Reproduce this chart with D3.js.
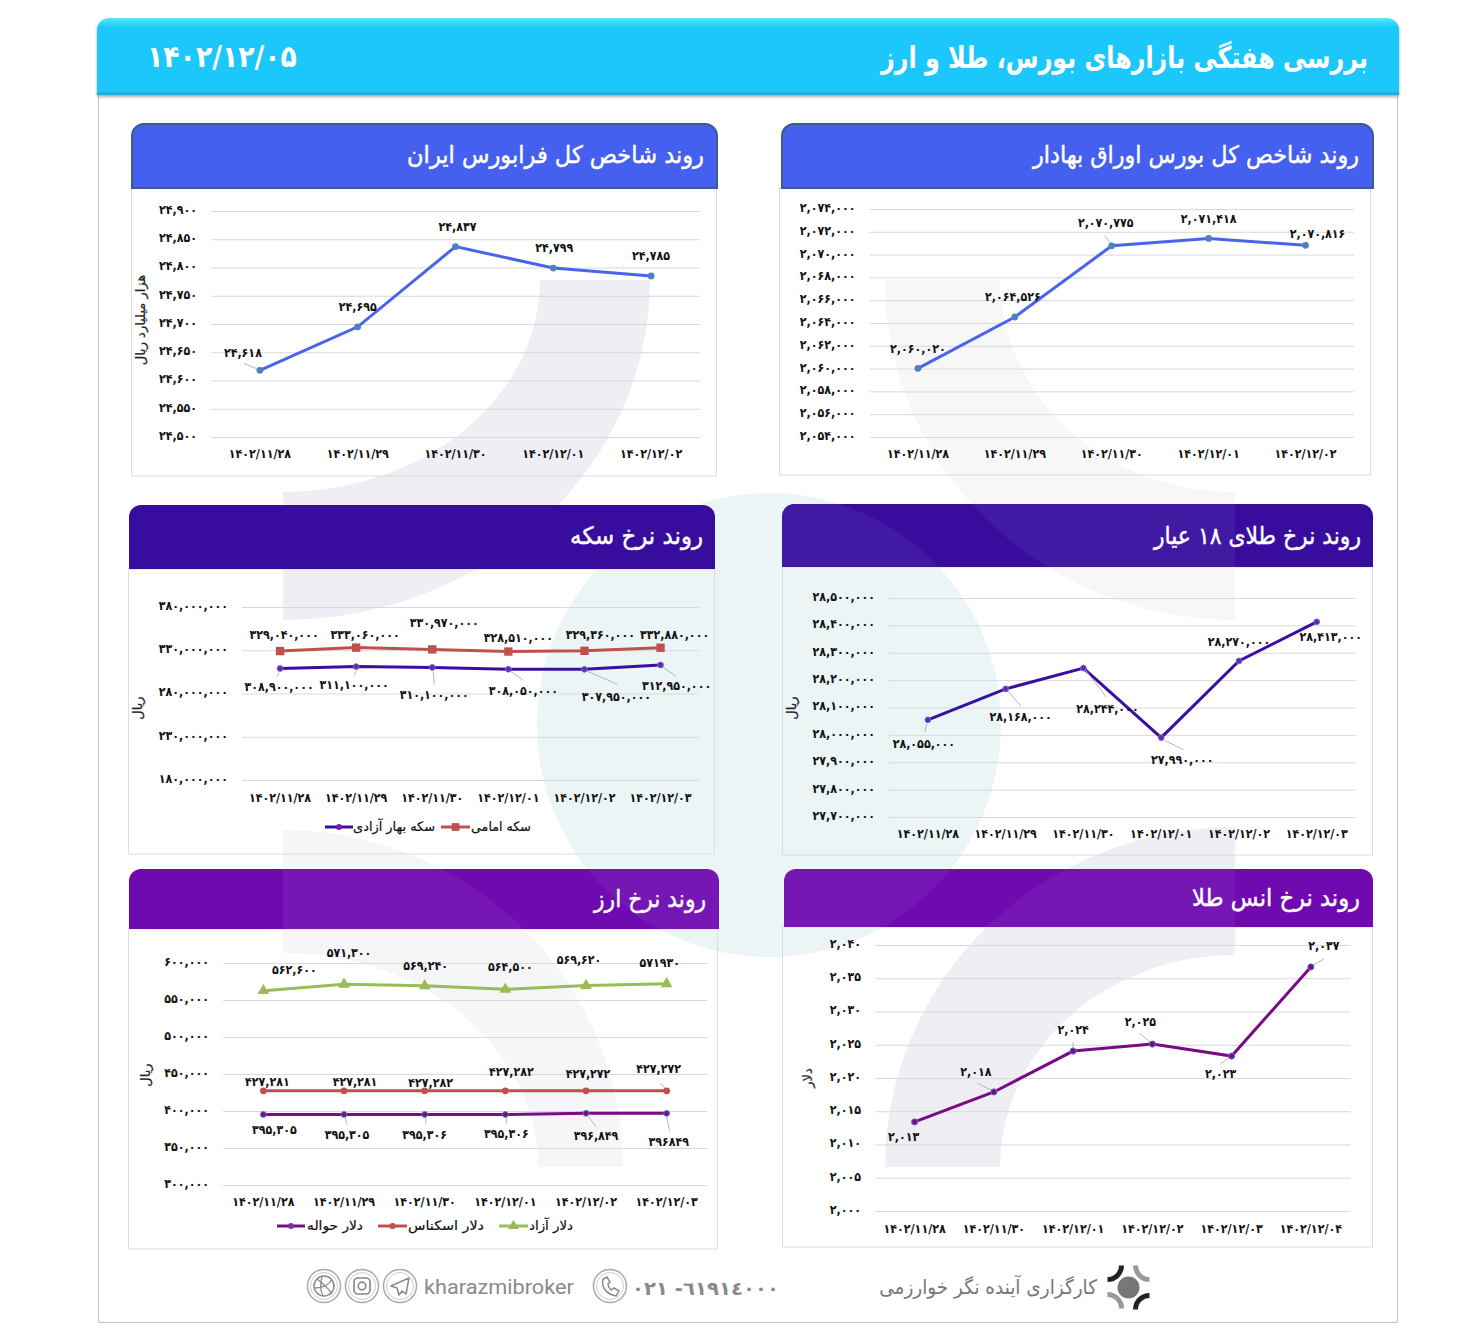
<!DOCTYPE html>
<html lang="fa"><head><meta charset="utf-8">
<style>
html,body{margin:0;padding:0;background:#fff}
svg{display:block}
text{font-family:"DejaVu Sans",sans-serif}
.num{font-family:"DejaVu Sans";font-stretch:condensed;font-weight:700;fill:#111}
.axis path{display:none}
.axis line{stroke:#d9d9d9;stroke-width:1}
</style></head><body>
<svg id="c" width="1482" height="1344"></svg>
<script src="https://cdn.jsdelivr.net/npm/d3@7"></script>
<script>
// ---------- data ----------
const datesA = ["1402/11/28","1402/11/29","1402/11/30","1402/12/01","1402/12/02"];
const datesB = ["1402/11/28","1402/11/29","1402/11/30","1402/12/01","1402/12/02","1402/12/03"];
const datesC = ["1402/11/28","1402/11/30","1402/12/01","1402/12/02","1402/12/03","1402/12/04"];
const bourseTicks = [2054000,2056000,2058000,2060000,2062000,2064000,2066000,2068000,2070000,2072000,2074000];
const bourseValues = [2060020,2064526,2070775,2071418,2070816];
const faraTicks = [24500,24550,24600,24650,24700,24750,24800,24850,24900];
const faraValues = [24618,24695,24837,24799,24785];
const goldTicks = [27700000,27800000,27900000,28000000,28100000,28200000,28300000,28400000,28500000];
const goldValues = [28055000,28168000,28244000,27990000,28270000,28413000];
const coinTicks = [180000000,230000000,280000000,330000000,380000000];
const coinEmami = [329040000,333060000,330970000,328510000,329360000,332880000];
const coinBahar = [308900000,311100000,310100000,308050000,307950000,312950000];
const ounceTicks = [2000,2005,2010,2015,2020,2025,2030,2035,2040];
const ounceValues = [2013.4,2017.9,2024.05,2025.1,2023.3,2036.7];
const ounceLabels = [2013,2018,2024,2025,2023,2037];
const fxTicks = [300000,350000,400000,450000,500000,550000,600000];
const fxFree = [562600,571300,569240,564500,569620,571930];
const fxCash = [427281,427281,427282,427282,427272,427272];
const fxHavale = [395305,395305,395306,395306,396849,396849];

// ---------- helpers ----------
const svg = d3.select("#c");
const faDigits = s => String(s).replace(/[0-9]/g,d=>"۰۱۲۳۴۵۶۷۸۹"[d]);
const grp = d3.format(",");
const fa = v => faDigits(grp(v));
const faPlain = v => faDigits(v);
const NF = 12.3;

// ---------- watermark ----------
function ring(cx,cy,sx,sy,orx,ory,irx,iry){
  const sw = sx*sy>0?1:0;
  return `M${cx+sx*orx},${cy}A${orx},${ory} 0 0 ${sw} ${cx},${cy+sy*ory}L${cx},${cy+sy*iry}A${irx},${iry} 0 0 ${1-sw} ${cx+sx*irx},${cy}Z`;
}
const shapes = [
  ring(283,280,1,1,367,340,257,212),
  ring(1235,280,-1,1,350,340,235,212),
  ring(283,1167,1,-1,340,337,255,214),
  ring(1235,1167,-1,-1,350,340,235,212)
];
const wm = svg.append("g");
wm.append("circle").attr("cx",769).attr("cy",725).attr("r",232).attr("fill","#ebf5f6");
wm.selectAll("path").data(shapes).join("path").attr("d",d=>d)
  .attr("fill",(d,i)=>["#eeeef4","#f7f7f8","#f6f6f8","#eeeef4"][i]);

// ---------- frame & main header ----------
svg.append("path").attr("d","M98.5,90V1322.5H1397.5V90").attr("fill","none").attr("stroke","#c4c4c4");
const defs = svg.append("defs");
const hg = defs.append("linearGradient").attr("id","hg").attr("x1",0).attr("x2",0).attr("y1",0).attr("y2",1);
[[0,"#5fe9ff"],[0.06,"#38d6fd"],[0.12,"#1fc7fb"],[0.94,"#1fc7fb"],[1,"#1aa5d0"]].forEach(s=>hg.append("stop").attr("offset",s[0]).attr("stop-color",s[1]));
const sh = defs.append("filter").attr("id","sh").attr("x","-2%").attr("y","-10%").attr("width","104%").attr("height","125%");
sh.append("feDropShadow").attr("dx",0).attr("dy",2).attr("stdDeviation",1.5).attr("flood-color","#777").attr("flood-opacity",.6);
svg.append("path").attr("d","M97,95V30a12,12 0 0 1 12,-12H1387a12,12 0 0 1 12,12V95Z").attr("fill","url(#hg)").attr("filter","url(#sh)");

function fit(sel,width){
  sel.each(function(){
    const t=d3.select(this), w=this.getComputedTextLength();
    const x=+t.attr("x"), y=+t.attr("y");
    t.attr("transform",`translate(${x},${y}) scale(${width/w},1) translate(${-x},${-y})`);
  });
}
const title=(x,y,txt,size,w,weight)=>{
  const t=svg.append("text").attr("x",x).attr("y",y).attr("text-anchor","start").attr("fill","#fff")
    .attr("font-size",size).attr("font-weight",weight||400).attr("direction","rtl").text(txt);
  if(!weight) t.attr("stroke","#fff").attr("stroke-width",.45);
  fit(t,w); return t;
};

// ---------- panels ----------
const panels=[
 {x:782,w:591,y:124,h:64,bx:779,bw:592,by2:475,fill:"#4560ee",edge:"#3c5a8e",ov:1,title:"روند شاخص کل بورس اوراق بهادار",tx:1359,ty:163,tw:326,ts:24},
 {x:132,w:585,y:124,h:64,bx:131,bw:586,by2:476,fill:"#4560ee",edge:"#3c5a8e",ov:0,title:"روند  شاخص کل فرابورس ایران",tx:704,ty:163,tw:297,ts:24},
 {x:782,w:591,y:504,h:63,bx:782,bw:591,by2:855,fill:"#380d9d",ov:1,title:"روند نرخ طلای ۱۸ عیار",tx:1361,ty:544,tw:207,ts:24},
 {x:129,w:586,y:505,h:64,bx:128,bw:587,by2:854,fill:"#380d9d",ov:0,title:"روند نرخ سکه",tx:703,ty:544,tw:133,ts:24},
 {x:784,w:589,y:869,h:58,bx:782,bw:591,by2:1247,fill:"#6f0ab0",ov:1,title:"روند نرخ انس طلا",tx:1360,ty:906,tw:168,ts:24},
 {x:129,w:590,y:869,h:60,bx:128,bw:590,by2:1249,fill:"#6f0ab0",ov:1,title:"روند نرخ ارز",tx:706,ty:907,tw:112,ts:24}
];
panels.forEach(p=>{
  svg.append("rect").attr("x",p.bx+.5).attr("y",p.y+p.h).attr("width",p.bw-1).attr("height",p.by2-p.y-p.h)
    .attr("fill","none").attr("stroke","#dcdcdc");
  const hd=`M${p.x},${p.y+p.h}V${p.y+12}a12,12 0 0 1 12,-12H${p.x+p.w-12}a12,12 0 0 1 12,12V${p.y+p.h}Z`;
  svg.append("path").attr("d",hd).attr("fill",p.fill).attr("stroke",p.edge||"none").attr("stroke-width",p.edge?2:0);
  if(p.ov){
    const id="clip"+p.x+"_"+p.y;
    defs.append("clipPath").attr("id",id).append("path").attr("d",hd);
    const ov=svg.append("g").attr("clip-path",`url(#${id})`).attr("fill","#fff").attr("fill-opacity",.05);
    ov.append("circle").attr("cx",769).attr("cy",725).attr("r",232);
    shapes.forEach(s=>ov.append("path").attr("d",s));
  }
  title(p.tx,p.ty,p.title,p.ts,p.tw);
});
title(1368,68,"بررسی هفتگی بازارهای بورس، طلا و ارز",30,487,700);
const dt=svg.append("text").attr("x",147).attr("y",67).attr("direction","ltr").attr("font-size",30).attr("font-weight",700).attr("fill","#fff").text(faDigits("1402/12/05"));
fit(dt,150);

// ---------- charts ----------
function chart(o){
  const x=d3.scaleBand().domain(o.dates).range(o.xr);
  const y=d3.scaleLinear().domain(d3.extent(o.ticks)).range(o.yr);
  const g=svg.append("g");
  const w=o.xr[1]-o.xr[0];
  const ya=g.append("g").attr("class","axis").attr("transform",`translate(${o.xr[0]},0)`)
    .call(d3.axisLeft(y).tickValues(o.ticks).tickFormat(fa).tickSize(-w).tickPadding(14));
  ya.selectAll("text").attr("class","num").attr("font-size",NF).attr("dy","0.2em");
  const xa=g.append("g").attr("class","axis").attr("transform",`translate(0,${o.yr[0]})`)
    .call(d3.axisBottom(x).tickFormat(faPlain).tickSize(0).tickPadding(o.xpad||12));
  xa.selectAll("text").attr("class","num").attr("font-size",NF).attr("direction","ltr");
  if(o.title) g.append("text").attr("transform",`translate(${o.title[0]},${o.title[1]}) rotate(-90)`)
    .attr("text-anchor","middle").attr("font-size",13).attr("fill","#222").attr("stroke","#222").attr("stroke-width",.2).attr("direction","rtl").text(o.title[2]);
  o.series.forEach(s=>{
    const cx=(d,i)=>x(o.dates[i])+x.bandwidth()/2;
    const line=d3.line().x(cx).y(d=>y(d));
    g.append("path").datum(s.values).attr("d",line).attr("fill","none").attr("stroke",s.color).attr("stroke-width",s.sw||3);
    (s.leaders||[]).forEach((l,i)=>{ if(!l) return;
      g.append("line").attr("x1",cx(0,i)+l[0]).attr("y1",y(s.values[i])+l[1]).attr("x2",cx(0,i)+l[2]).attr("y2",y(s.values[i])+l[3])
       .attr("stroke","#b5b5b5").attr("stroke-width",1);
    });
    const sym=s.shape||d3.symbolCircle;
    g.selectAll(null).data(s.values).join("path")
      .attr("d",d3.symbol(sym,s.ms||36))
      .attr("transform",(d,i)=>`translate(${cx(d,i)},${y(d)})`)
      .attr("fill",s.marker).attr("stroke",s.mstroke||"none");
    g.selectAll(null).data(s.values).join("text").attr("class","num").attr("font-size",NF).attr("text-anchor","middle")
      .attr("x",(d,i)=>cx(d,i)+s.offs[i][0]).attr("y",(d,i)=>y(d)+s.offs[i][1]).attr("dy","0.35em")
      .text((d,i)=>s.labels?s.labels[i]:fa(d));
  });
}
const blue="#4a63ec", blueM="#4f81bd", ind="#3a0ea0", indM="#7a1ab8", plum="#7a0a86", red="#c0504d", green="#9bbb59";

chart({dates:datesA,ticks:bourseTicks,xr:[869.5,1354],yr:[437,209],
 series:[{values:bourseValues,color:blue,marker:blueM,
  offs:[[0,-20],[-2,-20],[-6,-23],[0,-20],[12,-12]],
  leaders:[null,null,[-1,-2,-7,-10],null,null]}]});
chart({dates:datesA,ticks:faraTicks,xr:[211,700],yr:[437,211],title:[145,320,"هزار میلیارد ریال"],
 series:[{values:faraValues,color:blue,marker:blueM,
  offs:[[-17,-18],[0,-20],[2,-20],[1,-20],[0,-20]],
  leaders:[[-2,-1,-16,-7],null,null,null,null]}]});
chart({dates:datesB,ticks:goldTicks,xr:[889,1355.6],yr:[817,598],xpad:12,title:[796,708,"ریال"],
 series:[{values:goldValues,color:ind,marker:indM,mstroke:"#4f81bd",ms:26,
  offs:[[-4,24],[15,28],[24,41],[21,22],[0,-19],[14,15]],
  leaders:[[-1,4,-3,12],[2,2,15,17],[2,2,23,29],[2,2,22,12],null,null]}]});
chart({dates:datesB,ticks:coinTicks,xr:[242,698.6],yr:[780,607],xpad:13,title:[142,708,"ریال"],
 series:[
 {values:coinEmami,color:red,marker:red,shape:d3.symbolSquare,ms:70,
  offs:[[4,-16],[9,-13],[12,-27],[10,-14],[16,-16],[14,-13]]},
 {values:coinBahar,color:ind,marker:indM,mstroke:"#4f81bd",ms:26,
  offs:[[-1,18],[-2,18],[2,27],[15,21],[32,27],[16,21]],
  leaders:[[-1,4,-3,8],[0,4,-2,9],[1,4,2,17],[2,2,15,11],[3,2,33,15],[2,2,15,11]]}]});
chart({dates:datesC,ticks:ounceTicks,xr:[875,1350.5],yr:[1211,945],xpad:13,title:[812,1078,"دلار"],
 series:[{values:ounceValues,color:plum,marker:plum,mstroke:"#4f81bd",ms:30,
  labels:ounceLabels.map(fa),
  offs:[[-11,15],[-18,-20],[0,-21],[-12,-22],[-11,18],[13,-21]],
  leaders:[null,[-1,-1,-17,-9],[0,-1,0,-9],[-1,-1,-13,-11],[-2,1,-11,8],[1,-1,13,-8]]}]});
chart({dates:datesB,ticks:fxTicks,xr:[223,707],yr:[1185,963],xpad:12,title:[150,1075,"ریال"],
 series:[
 {values:fxFree,color:green,marker:green,shape:d3.symbolTriangle,ms:60,
  labels:fxFree.map((v,i)=>i===5?faPlain(v):fa(v)),
  offs:[[31,-21],[5,-32],[1,-20],[5,-23],[-7,-26],[-7,-21]]},
 {values:fxCash,color:red,marker:red,ms:36,
  offs:[[4,-9],[11,-9],[6,-8],[6,-19],[2,-17],[-8,-22]],
  leaders:[null,null,null,null,null,[-1,-2,-7,-8]]},
 {values:fxHavale,color:plum,marker:plum,mstroke:"#4f81bd",ms:26,
  labels:fxHavale.map((v,i)=>i===5?faPlain(v):fa(v)),
  offs:[[11,15],[3,20],[0,20],[1,19],[10,22],[2,28]],
  leaders:[null,[1,3,3,10],[1,3,1,9],[1,3,1,9],[2,3,10,13],[0,3,3,18]]}]});

// ---------- legends ----------
function legend(items,yy){
  items.forEach(it=>{
    const l=svg.append("g");
    l.append("line").attr("x1",it.x1).attr("x2",it.x2).attr("y1",yy).attr("y2",yy).attr("stroke",it.color).attr("stroke-width",3);
    l.append("path").attr("d",d3.symbol(it.shape,it.ms)).attr("transform",`translate(${(it.x1+it.x2)/2},${yy})`).attr("fill",it.marker);
    const t=l.append("text").attr("x",it.tx).attr("y",yy+4).attr("text-anchor","start").attr("font-size",13).attr("fill","#111").attr("stroke","#111").attr("stroke-width",.2).attr("direction","rtl").text(it.text);
    fit(t,it.tw);
  });
}
legend([{x1:325,x2:353,color:ind,marker:indM,shape:d3.symbolCircle,ms:26,tx:435,tw:82,text:"سکه بهار آزادی"},
        {x1:441,x2:470,color:red,marker:red,shape:d3.symbolSquare,ms:60,tx:531,tw:60,text:"سکه امامی"}],827);
legend([{x1:277,x2:305,color:plum,marker:"#6a3aa0",shape:d3.symbolCircle,ms:26,tx:363,tw:56,text:"دلار حواله"},
        {x1:378,x2:407,color:red,marker:red,shape:d3.symbolCircle,ms:30,tx:484,tw:76,text:"دلار اسکناس"},
        {x1:499,x2:528,color:green,marker:green,shape:d3.symbolTriangle,ms:50,tx:573,tw:44,text:"دلار آزاد"}],1226);

// ---------- footer ----------
const gr="#8a8a8a";
const f=svg.append("g");
const t1=f.append("text").attr("x",1097).attr("y",1294).attr("text-anchor","start").attr("font-size",20).attr("fill","#777").attr("direction","rtl").text("کارگزاری آینده نگر خوارزمی");
fit(t1,218);
const t2=f.append("text").attr("x",424).attr("y",1294).attr("font-size",21).attr("fill",gr).style("font-family","Roboto").text("kharazmibroker");
fit(t2,150);
const t3=f.append("text").attr("x",632).attr("y",1295).attr("font-size",19).attr("font-weight",700).attr("fill",gr).attr("direction","ltr").style("unicode-bidi","bidi-override").text("٠٢١ -٦١٩١٤٠٠٠");
fit(t3,147);
[[324,1286],[362,1286],[400,1286],[610,1286]].forEach(c=>{
  f.append("circle").attr("cx",c[0]).attr("cy",c[1]).attr("r",16.5).attr("fill","none").attr("stroke","#aaa").attr("stroke-width",1.5);
  f.append("circle").attr("cx",c[0]).attr("cy",c[1]).attr("r",13.5).attr("fill","none").attr("stroke","#ccc").attr("stroke-width",1);
});
f.append("circle").attr("cx",324).attr("cy",1286).attr("r",10).attr("fill","none").attr("stroke",gr).attr("stroke-width",1.5);
f.append("path").attr("d","M317,1279C325,1285 330,1291 332,1294M315,1288C322,1288 329,1285 332,1279M322,1277C320,1284 320,1290 323,1296").attr("fill","none").attr("stroke",gr).attr("stroke-width",1.3);
f.append("rect").attr("x",354).attr("y",1278).attr("width",16).attr("height",16).attr("rx",4).attr("fill","none").attr("stroke",gr).attr("stroke-width",1.7);
f.append("circle").attr("cx",362).attr("cy",1286).attr("r",3.8).attr("fill","none").attr("stroke",gr).attr("stroke-width",1.7);
f.append("path").attr("d","M409,1278L391,1286L397,1288L399,1295L402,1291L406,1294Z").attr("fill","none").attr("stroke",gr).attr("stroke-width",1.5).attr("stroke-linejoin","round");
f.append("path").attr("d","M603,1279C601,1287 606,1294 616,1296L619,1291L614,1288L611,1290C609,1288 608,1286 608,1284L610,1282L607,1277Z").attr("fill","none").attr("stroke",gr).attr("stroke-width",1.5);
const lg=f.append("g").attr("transform","translate(1128.5,1287.5)");
lg.append("circle").attr("r",11).attr("fill","#777");
[["M-7,-22A14,14 0 0 1 -21,-8","#222"],["M7,-22A14,14 0 0 0 21,-8","#999"],["M-21,7A14,14 0 0 1 -7,21","#999"],["M7,22A14,14 0 0 1 21,8","#222"]]
 .forEach(a=>lg.append("path").attr("d",a[0]).attr("fill","none").attr("stroke",a[1]).attr("stroke-width",5));
</script>
</body></html>
